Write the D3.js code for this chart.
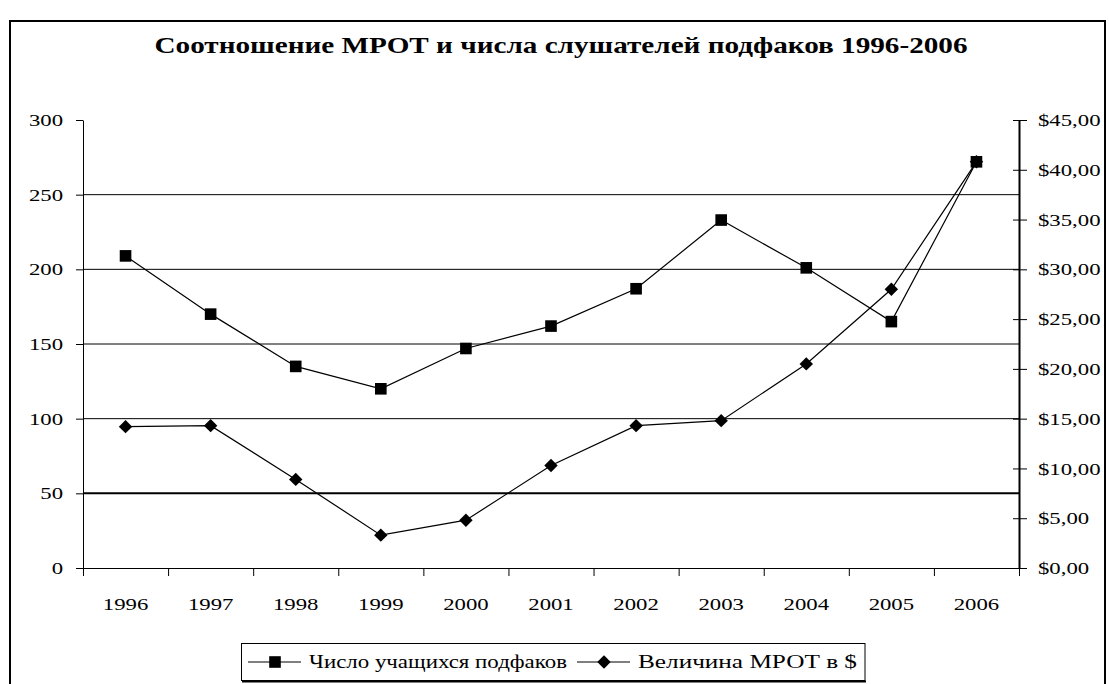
<!DOCTYPE html>
<html>
<head>
<meta charset="utf-8">
<script src="https://cdn.jsdelivr.net/npm/d3@7"></script>
<style>
  body { margin: 0; background: #fff; }
  svg { display: block; }
  svg text { font-family: "Liberation Serif", "Times New Roman", serif; fill: #000; }
</style>
</head>
<body>
<script>
// Chart data
const title = "Соотношение МРОТ и числа слушателей подфаков 1996-2006";
const years = ["1996", "1997", "1998", "1999", "2000", "2001", "2002", "2003", "2004", "2005", "2006"];
const students = [209, 170, 135, 120, 147, 162, 187, 233, 201, 165, 272];
const mrot = [14.2, 14.3, 8.9, 3.3, 4.8, 10.3, 14.3, 14.8, 20.5, 28.0, 40.8];
const leftTicks = [0, 50, 100, 150, 200, 250, 300];
const rightTicks = [0, 5, 10, 15, 20, 25, 30, 35, 40, 45];
const seriesNames = ["Число учащихся подфаков", "Величина МРОТ в $"];

const width = 1109, height = 684;
const plot = { left: 83, right: 1019, top: 120, bottom: 568 };
const stretch = 1.3; // labels in the picture are wider than plain Times
const serif = '"Liberation Serif", "Times New Roman", serif';

const svg = d3.select("body").append("svg")
    .attr("width", width)
    .attr("height", height);

svg.append("rect").attr("width", width).attr("height", height).attr("fill", "#fff");

// outer chart frame (bottom is cut off)
svg.append("path")
    .attr("d", `M10,${height + 5}V21H1105V${height + 5}`)
    .attr("fill", "none")
    .attr("stroke", "#000")
    .attr("stroke-width", 2);

// Scales
const x = d3.scaleBand().domain(years).range([plot.left, plot.right]).padding(0);
const xEdge = d3.scaleLinear().domain([0, years.length]).range([plot.left, plot.right]);
const yL = d3.scaleLinear().domain([0, 300]).range([plot.bottom, plot.top]);
const yR = d3.scaleLinear().domain([0, 45]).range([plot.bottom, plot.top]);

// widen tick labels horizontally, keeping their anchor
function widen(sel) {
    sel.selectAll("text").each(function () {
        const t = d3.select(this);
        const x0 = +t.attr("x") || 0;
        t.attr("x", x0 / stretch).attr("transform", `scale(${stretch},1)`)
            .style("font-family", serif).style("font-size", "17.5px");
    });
}

// Gridlines
svg.append("g")
    .selectAll("line")
    .data(leftTicks.filter(d => d > 0 && d < 300))
    .join("line")
    .attr("x1", plot.left).attr("x2", plot.right)
    .attr("y1", d => yL(d)).attr("y2", d => yL(d))
    .attr("stroke", "#000")
    .attr("stroke-width", d => d === 50 ? 2 : 1);

// Left axis
const gL = svg.append("g")
    .attr("transform", `translate(${plot.left},0)`)
    .call(d3.axisLeft(yL).tickValues(leftTicks).tickSize(7).tickSizeOuter(0).tickPadding(13));
gL.selectAll("line, path").attr("stroke", "#000");
widen(gL);

// Right axis
const fmt = d3.format(".2f");
const gR = svg.append("g")
    .attr("transform", `translate(${plot.right},0)`)
    .call(d3.axisRight(yR).tickValues(rightTicks).tickSize(8).tickSizeOuter(0).tickPadding(11)
        .tickFormat(d => "$" + fmt(d).replace(".", ",")));
gR.selectAll(".tick line").attr("x1", -6).attr("x2", 8);
gR.select(".domain").attr("stroke-width", 2);
gR.selectAll("line, path").attr("stroke", "#000");
widen(gR);

// Bottom axis: ticks between categories, labels at centres
const gB = svg.append("g")
    .attr("transform", `translate(0,${plot.bottom})`)
    .call(d3.axisBottom(xEdge).tickValues(d3.range(years.length + 1)).tickFormat("").tickSize(8).tickSizeOuter(0));
gB.selectAll("line, path").attr("stroke", "#000");

const gBL = svg.append("g")
    .attr("transform", `translate(0,${plot.bottom})`)
    .call(d3.axisBottom(x).tickSize(0).tickPadding(30));
gBL.select(".domain").remove();
widen(gBL);

// Series lines
const cx = (d, i) => x(years[i]) + x.bandwidth() / 2;
const lineL = d3.line().x(cx).y(d => yL(d));
const lineR = d3.line().x(cx).y(d => yR(d));

svg.append("path").datum(students).attr("d", lineL)
    .attr("fill", "none").attr("stroke", "#000").attr("stroke-width", 1.2);
svg.append("path").datum(mrot).attr("d", lineR)
    .attr("fill", "none").attr("stroke", "#000").attr("stroke-width", 1.2);

const square = d3.symbol().type(d3.symbolSquare).size(135);
const diamond = d3.symbol().type(d3.symbolSquare).size(90);

svg.append("g").selectAll("path")
    .data(students)
    .join("path")
    .attr("d", square)
    .attr("transform", (d, i) => `translate(${cx(d, i)},${yL(d)})`)
    .attr("fill", "#000");

svg.append("g").selectAll("path")
    .data(mrot)
    .join("path")
    .attr("d", diamond)
    .attr("transform", (d, i) => `translate(${cx(d, i)},${yR(d)}) rotate(45)`)
    .attr("fill", "#000");

// Title
svg.append("text")
    .attr("x", 561)
    .attr("y", 53)
    .attr("text-anchor", "middle")
    .attr("textLength", 813)
    .attr("lengthAdjust", "spacingAndGlyphs")
    .style("font-family", serif)
    .style("font-size", "24px")
    .style("font-weight", "bold")
    .text(title);

// Legend (label widths as measured in the picture)
const legendWidths = [258, 219];
const legend = svg.append("g");
const box = legend.append("rect")
    .attr("x", 241.5).attr("y", 643.5)
    .attr("height", 37)
    .attr("fill", "#fff").attr("stroke", "#000");
const shadow = legend.append("line")
    .attr("x1", 242).attr("y1", 681.5).attr("y2", 681.5)
    .attr("stroke", "#000").attr("stroke-width", 2);

const ly = 662;
const syms = [{ sym: square, rot: 0 }, { sym: diamond, rot: 45 }];
let x0 = 248;
seriesNames.forEach((name, i) => {
    legend.append("line")
        .attr("x1", x0).attr("x2", x0 + 53)
        .attr("y1", ly).attr("y2", ly)
        .attr("stroke", "#000").attr("stroke-width", 1.2);
    legend.append("path")
        .attr("d", syms[i].sym)
        .attr("transform", `translate(${x0 + 27},${ly}) rotate(${syms[i].rot})`)
        .attr("fill", "#000");
    legend.append("text")
        .attr("x", x0 + 61)
        .attr("y", ly + 6)
        .attr("textLength", legendWidths[i])
        .attr("lengthAdjust", "spacingAndGlyphs")
        .style("font-family", serif)
        .style("font-size", "18px")
        .text(name);
    x0 = x0 + 61 + legendWidths[i] + 10;
});
const boxRight = x0 - 10 + 8;
box.attr("width", boxRight - 241.5);
shadow.attr("x2", boxRight + 1);
</script>
</body>
</html>
